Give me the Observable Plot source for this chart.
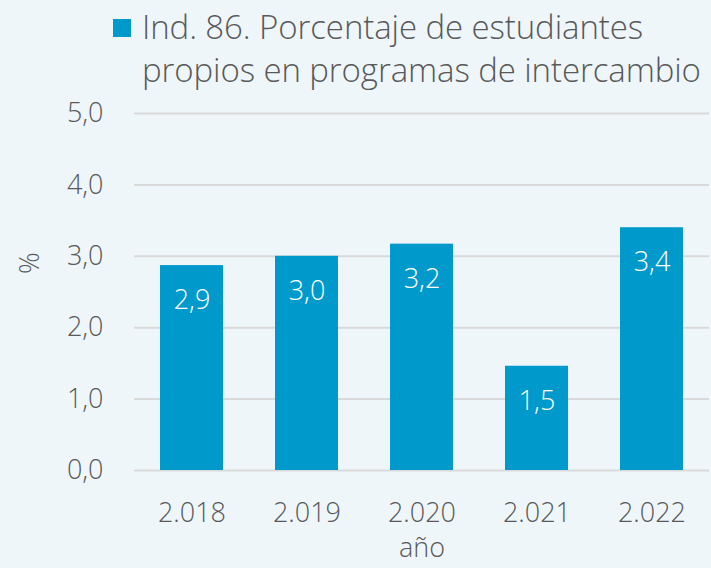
<!DOCTYPE html>
<html>
<head>
<meta charset="utf-8">
<script src="https://cdn.jsdelivr.net/npm/d3@7"></script>
<script src="https://cdn.jsdelivr.net/npm/@observablehq/plot@0.6"></script>
<style>
  html, body { margin: 0; padding: 0; }
  body { position: relative; width: 711px; height: 568px; overflow: hidden; background: #eef6fa; font-family: "Open Sans", sans-serif; font-weight: 300; color: #595959; }
  #legend { position: absolute; left: 0; top: 0; width: 711px; height: 100px; z-index: 2; }
  #legend .sw { position: absolute; left: 113px; top: 19px; width: 18px; height: 18px; background: #0099cc; }
  #legend .tx { position: absolute; left: 142px; top: 5px; font-size: 33px; line-height: 43px; white-space: nowrap; letter-spacing: -0.1px; }
  #chart { position: absolute; left: 0; top: 0; }
</style>
</head>
<body>
<div id="chart"></div>
<div id="legend"><div class="sw"></div><div class="tx">Ind. 86. Porcentaje de estudiantes<br>propios en programas de intercambio</div></div>
<script>
const years = ["2.018", "2.019", "2.020", "2.021", "2.022"];
const values = [2.87, 3.0, 3.17, 1.46, 3.4];
const yTicks = [0, 1, 2, 3, 4, 5];
const yLabel = "%";
const xLabel = "año";

const data = years.map((y, i) => ({year: y, value: values[i]}));
const fmt = d => d.toFixed(1).replace(".", ",");

const chart = Plot.plot({
  width: 711,
  height: 568,
  marginTop: 113,
  marginBottom: 98,
  marginLeft: 134,
  marginRight: 2,
  style: {fontFamily: "'Open Sans', sans-serif", fontWeight: 300, fontSize: "27px", color: "#595959", background: "transparent"},
  x: {domain: years, paddingInner: 0.45, paddingOuter: 0.225},
  y: {domain: [0, 5]},
  marks: [
    Plot.gridY(yTicks, {stroke: "#d9d9d9", strokeOpacity: 1, strokeWidth: 2}),
    Plot.barY(data, {x: "year", y: "value", fill: "#0099cc"}),
    Plot.text(data, {x: "year", y: "value", text: d => fmt(d.value), dy: 35, fill: "white", fontSize: 27}),
    Plot.axisY(yTicks, {tickSize: 0, tickPadding: 31, tickFormat: fmt, label: null, fontSize: 27}),
    Plot.text([yLabel], {text: d => d, frameAnchor: "left", rotate: -90, dx: -104, dy: -18, fill: "#595959", fontSize: 27}),
    Plot.axisX({tickSize: 0, tickPadding: 32, label: xLabel, labelAnchor: "center", labelArrow: "none", labelOffset: 86, fontSize: 27})
  ]
});
document.getElementById("chart").appendChild(chart);
</script>
</body>
</html>
